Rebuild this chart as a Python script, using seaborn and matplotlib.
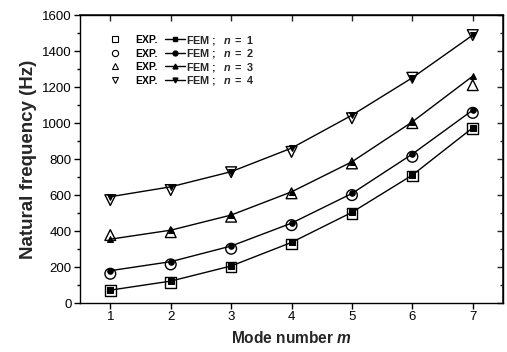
import matplotlib
matplotlib.use("Agg")
import matplotlib.pyplot as plt
from matplotlib.lines import Line2D
from matplotlib.text import Text
from matplotlib.ticker import MultipleLocator, NullFormatter
import seaborn as sns
import pandas as pd

sns.set_theme(style="ticks")
plt.rcParams['font.family'] = ['Liberation Sans', 'DejaVu Sans']
plt.rcParams['mathtext.fontset'] = 'custom'
plt.rcParams['mathtext.rm'] = 'Liberation Sans'
plt.rcParams['mathtext.bf'] = 'Liberation Sans:bold'
plt.rcParams['mathtext.it'] = 'Liberation Sans:italic'
try:
    plt.rcParams['mathtext.bfit'] = 'Liberation Sans:italic:bold'
except KeyError:
    pass

modes = [1, 2, 3, 4, 5, 6, 7]
fem_n1 = [72, 122, 206, 337, 504, 711, 974]
fem_n2 = [180, 230, 317, 444, 609, 828, 1072]
fem_n3 = [355, 405, 489, 618, 785, 1007, 1261]
fem_n4 = [591, 646, 730, 861, 1044, 1252, 1489]
exp_n1 = [68, 115, 200, 328, 498, 706, 970]
exp_n2 = [163, 215, 302, 433, 600, 813, 1057]
exp_n3 = [378, 394, 480, 610, 776, 1000, 1211]
exp_n4 = [572, 628, 727, 840, 1027, 1252, 1489]
n_labels = ["1", "2", "3", "4"]
markers = ["s", "o", "^", "v"]

fem = [fem_n1, fem_n2, fem_n3, fem_n4]
exp = [exp_n1, exp_n2, exp_n3, exp_n4]

fig = plt.figure(figsize=(5.07, 3.52), dpi=100)
ax = fig.add_axes([0.158, 0.139, 0.834, 0.818])

for i in range(4):
    df = pd.DataFrame({"m": modes, "fem": fem[i], "exp": exp[i]})
    sns.lineplot(data=df, x="m", y="fem", ax=ax, color="black", lw=1.0,
                 marker=markers[i], markersize=4, markeredgecolor="black",
                 markerfacecolor="black", legend=False)
    sns.scatterplot(data=df, x="m", y="exp", ax=ax, marker=markers[i], s=60,
                    facecolors="none", edgecolor="black", linewidth=1.0,
                    legend=False, zorder=3)

ax.set_xlim(0.5, 7.5)
ax.set_ylim(0, 1600)
ax.xaxis.set_major_locator(MultipleLocator(1))
ax.yaxis.set_major_locator(MultipleLocator(200))
ax.yaxis.set_minor_locator(MultipleLocator(100))
ax.tick_params(which="both", direction="out", labelsize=9.5, colors="black",
               width=1, pad=2)
ax.tick_params(which="major", length=4)
ax.tick_params(which="minor", length=2)
for s in ax.spines.values():
    s.set_linewidth(1.0)
    s.set_color("black")

# mirrored inward ticks on top and right
top = ax.secondary_xaxis("top")
top.xaxis.set_major_locator(MultipleLocator(1))
top.tick_params(direction="in", length=4, width=1, labeltop=False)
top.xaxis.set_major_formatter(NullFormatter())
right = ax.secondary_yaxis("right")
right.yaxis.set_major_locator(MultipleLocator(200))
right.yaxis.set_minor_locator(MultipleLocator(100))
right.tick_params(which="both", direction="in", width=1, labelright=False)
right.tick_params(which="major", length=4)
right.tick_params(which="minor", length=2)
right.yaxis.set_major_formatter(NullFormatter())

ax.set_xlabel("$\\mathbf{Mode\\ number}\\ \\mathbfit{m}$", fontsize=11.2, labelpad=5)
ax.set_ylabel("Natural frequency (Hz)", fontsize=13.5, fontweight="bold", labelpad=4)

fs = 7.8


class Entry:
    def __init__(self, marker):
        self.marker = marker


class ExpFemHandler:
    """Draws: open EXP marker, the text 'EXP.', then the FEM line with marker."""
    def legend_artist(self, legend, orig_handle, fontsize, handlebox):
        h = handlebox.height
        d = handlebox.ydescent
        yc = (h - d) / 2.0
        mk = orig_handle.marker
        arts = [
            Line2D([3.6], [yc], ls="none", marker=mk, markersize=4.5,
                   markerfacecolor="none", markeredgecolor="black", mew=0.8),
            Text(18.0, 0.0, "EXP.", fontsize=7.5, fontweight="bold",
                 va="baseline", ha="left", color="black"),
            Line2D([39.6, 54.0], [yc, yc], color="black", lw=1.0),
            Line2D([46.8], [yc], ls="none", marker=mk, markersize=3.5,
                   color="black"),
        ]
        for a in arts:
            handlebox.add_artist(a)
        return arts[0]


entries = [Entry(mk) for mk in markers]
fem_labels = ["$\\mathbf{FEM\\ ;}\\ \\ \\mathbfit{n}\\ \\mathbf{=}\\ \\mathbf{" + n + "}$"
              for n in n_labels]
leg = ax.legend(entries, fem_labels, handler_map={Entry: ExpFemHandler()},
                loc="upper left", bbox_to_anchor=(0.071, 0.935), frameon=False,
                borderpad=0, borderaxespad=0, prop={"size": fs, "weight": "bold"},
                handlelength=54.0 / fs, handleheight=1.0, handletextpad=0.1,
                labelspacing=0.05)

fig.savefig("out.png", dpi=100)
